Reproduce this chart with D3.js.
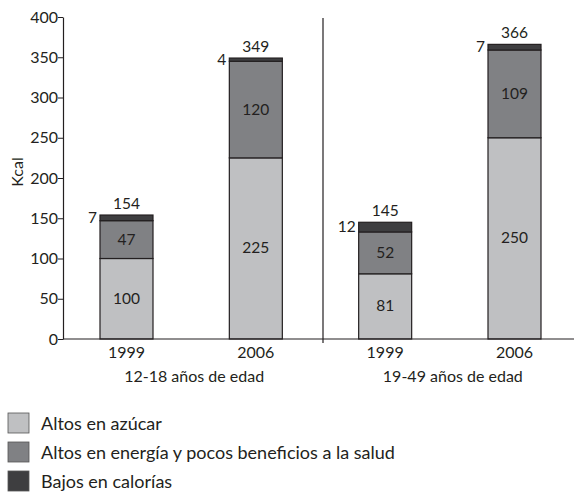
<!DOCTYPE html>
<html><head><meta charset="utf-8">
<script src="https://cdn.jsdelivr.net/npm/d3@7"></script>
<style>
body{margin:0;background:#fff;}
svg{display:block;font-family:Lato,"Open Sans",sans-serif;}
</style></head>
<body><svg id="c" width="574" height="493"></svg>
<script>
const groups = ["12-18 años de edad","19-49 años de edad"];
const years = ["1999","2006"];
const barKeys = ["g1-1999","g1-2006","g2-1999","g2-2006"];
const seriesNames = ["Altos en azúcar","Altos en energía y pocos beneficios a la salud","Bajos en calorías"];
const altosAzucar = [100,225,81,250];
const altosEnergia = [47,120,52,109];
const bajosCalorias = [7,4,12,7];
const totals = [154,349,145,366];
const yTicks = [0,50,100,150,200,250,300,350,400];
const colors = ["#bfc0c2","#808184","#3e3e40"];

const svg = d3.select("#c");
const y = d3.scaleLinear().domain([0,400]).range([339,17]);
const x = d3.scalePoint().domain(barKeys).range([126.5,514.5]);
const bw = 53;

// y axis
const yAxis = d3.axisLeft(y).tickValues(yTicks).tickSize(5).tickSizeOuter(0);
const ga = svg.append("g").attr("transform","translate(63,0)").call(yAxis);
ga.select(".domain").attr("stroke","#231f20").attr("stroke-width",1.2);
ga.selectAll(".tick line").attr("stroke","#231f20");
ga.selectAll(".tick text").attr("font-size",16).attr("fill","#231f20").attr("font-family","Lato,sans-serif").attr("x",-5);

svg.append("text").attr("transform","translate(23,172) rotate(-90)")
  .attr("text-anchor","middle").attr("font-size",16).attr("fill","#231f20").text("Kcal");

// divider
svg.append("line").attr("x1",323).attr("x2",323).attr("y1",18).attr("y2",343)
  .attr("stroke","#231f20").attr("stroke-width",1.2);

// stacked bars
const data = barKeys.map((k,i)=>({key:k,a:altosAzucar[i],b:altosEnergia[i],c:bajosCalorias[i],t:totals[i]}));
const stack = d3.stack().keys(["a","b","c"])(data);
stack.forEach((s,si)=>{
  svg.append("g").selectAll("rect").data(s).join("rect")
    .attr("x",d=>x(d.data.key)-bw/2).attr("width",bw)
    .attr("y",d=>y(d[1])).attr("height",d=>y(d[0])-y(d[1]))
    .attr("fill",colors[si]).attr("stroke","#231f20").attr("stroke-width",1.2);
});
// inside labels
[0,1].forEach(si=>{
  svg.append("g").selectAll("text").data(stack[si]).join("text")
    .attr("x",d=>x(d.data.key)).attr("y",d=>(y(d[0])+y(d[1]))/2+5)
    .attr("text-anchor","middle").attr("font-size",15.5).attr("fill","#231f20")
    .text(d=>d[1]-d[0]);
});
// small labels left
svg.append("g").selectAll("text").data(stack[2]).join("text")
  .attr("x",d=>x(d.data.key)-bw/2-3).attr("y",d=>(y(d[0])+y(d[1]))/2+5)
  .attr("text-anchor","end").attr("font-size",15.5).attr("fill","#231f20")
  .text(d=>d[1]-d[0]);
// totals
svg.append("g").selectAll("text").data(data).join("text")
  .attr("x",d=>x(d.key)).attr("y",d=>y(d.t)-6)
  .attr("text-anchor","middle").attr("font-size",15.5).attr("fill","#231f20")
  .text(d=>d.t);

// x axis
svg.append("line").attr("x1",63).attr("x2",574).attr("y1",339).attr("y2",339)
  .attr("stroke","#231f20").attr("stroke-width",1.2);
svg.append("g").selectAll("text").data(barKeys).join("text")
  .attr("x",d=>x(d)).attr("y",358).attr("text-anchor","middle")
  .attr("font-size",16).attr("fill","#231f20").text((d,i)=>years[i%2]);
svg.append("g").selectAll("text").data(groups).join("text")
  .attr("x",(d,i)=>(x(barKeys[2*i])+x(barKeys[2*i+1]))/2+3).attr("y",382).attr("text-anchor","middle")
  .attr("font-size",16).attr("fill","#231f20").text(d=>d);

// legend
const lg = svg.append("g").selectAll("g").data(seriesNames).join("g")
  .attr("transform",(d,i)=>`translate(8,${413+i*29})`);
lg.append("rect").attr("width",21).attr("height",20).attr("fill",(d,i)=>colors[i])
  .attr("stroke","#555").attr("stroke-width",0.8);
lg.append("text").attr("x",33).attr("y",17).attr("font-size",18).attr("fill","#231f20").text(d=>d);
</script></body></html>
